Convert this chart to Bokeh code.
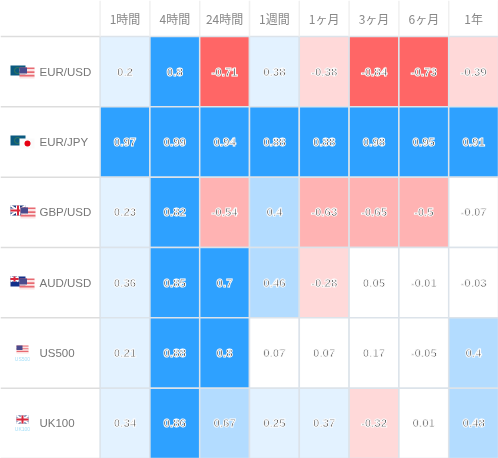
from bokeh.plotting import figure
from bokeh.models import Range1d, ColumnDataSource
from bokeh.embed import file_html
from bokeh.resources import INLINE
from bokeh.core.properties import value

periods = ["1時間", "4時間", "24時間", "1週間", "1ヶ月", "3ヶ月", "6ヶ月", "1年"]
instruments = ["EUR/USD", "EUR/JPY", "GBP/USD", "AUD/USD", "US500", "UK100"]
eur_usd = ["0.2", "0.8", "-0.71", "0.38", "-0.38", "-0.84", "-0.73", "-0.39"]
eur_jpy = ["0.97", "0.99", "0.94", "0.88", "0.88", "0.98", "0.95", "0.91"]
gbp_usd = ["0.23", "0.82", "-0.54", "0.4", "-0.63", "-0.65", "-0.5", "-0.07"]
aud_usd = ["0.36", "0.85", "0.7", "0.46", "-0.28", "0.05", "-0.01", "-0.03"]
us500 = ["0.21", "0.88", "0.8", "0.07", "0.07", "0.17", "-0.05", "0.4"]
uk100 = ["0.34", "0.86", "0.67", "0.25", "0.37", "-0.32", "0.01", "0.48"]
rows = [eur_usd, eur_jpy, gbp_usd, aud_usd, us500, uk100]


def colour(v):
    if v >= 0.7:
        return "#2ea1ff"
    if v >= 0.4:
        return "#b3dcff"
    if v >= 0.2:
        return "#e3f2ff"
    if v <= -0.7:
        return "#ff6666"
    if v <= -0.4:
        return "#ffb3b3"
    if v <= -0.2:
        return "#ffd9d9"
    return "#ffffff"


W, H = 498, 458
CW, RH, TOP = W / 10, (H - 36) / 6, 36 / ((H - 36) / 6)
p = figure(width=W, height=H, output_backend="svg", toolbar_location=None,
           x_range=Range1d(-2, 8), y_range=Range1d(6, -TOP),
           min_border=0, outline_line_color=None)
p.axis.visible = False
p.grid.visible = False
p.styles = {"position": "fixed", "left": "0px", "top": "0px"}


def px(x):
    return x / CW - 2


def py(y):
    return (y - 36) / RH


xs, ys, cols, labs = [], [], [], []
for r, row in enumerate(rows):
    for c, s in enumerate(row):
        xs.append(c + .5)
        ys.append(r + .5)
        cols.append(colour(float(s)))
        labs.append(s)
src = ColumnDataSource(dict(x=xs, y=ys, c=cols, t=labs))

# cells
p.rect("x", "y", 1, 1, source=src, fill_color="c", line_color="#dce3ea", line_width=1.5)
# row rules through the label column
p.segment(x0=[-2] * 7, x1=[0] * 7, y0=list(range(7)), y1=list(range(7)), line_color="#dddddd", line_width=1.5)
# header separators
hx = list(range(9))
p.segment(x0=hx, x1=hx, y0=[-TOP] * 9, y1=[0] * 9, line_color="#f0f0f0", line_width=1.5)

# header / row labels
p.text(x=[i + .5 for i in range(8)], y=[py(18)] * 8, text=periods, text_align="center", text_baseline="middle",
       text_font=value("Noto Sans CJK JP"), text_font_size="12px", text_color="#888888")
p.text(x=[px(39)] * 4 + [px(39)] * 2, y=[r + .5 for r in range(6)], text=instruments, text_align="left",
       text_baseline="middle", text_font=value("Liberation Sans"), text_font_size="11.5px", text_color="#777777")

# values
p.text("x", "y", text="t", source=src, text_align="center", text_baseline="middle",
       text_font=value("Liberation Sans"), text_font_style="bold", text_font_size="11.5px",
       text_color="#000000", outline_color="#ffffff")


def box(x0, y0, x1, y1, colour_):
    p.quad(left=px(x0), right=px(x1), top=py(y0), bottom=py(y1), fill_color=colour_, line_color=None)


def eu(y):
    box(10, y, 25, y + 10, "#0b5a80")
    p.scatter([px(17)], [py(y + 5)], size=6, marker="circle", fill_color=None, line_color="#3f7f50", line_width=.8)


def us(x, y, w=15, h=11):
    for i in range(6):
        box(x, y + i * h / 6, x + w, y + (i + 1) * h / 6, "#e86a72" if i % 2 == 0 else "#fbe4e4")
    box(x, y, x + w * .5, y + h * .55, "#4a4a8c")


def uk(x, y, w=15, h=10):
    box(x, y, x + w, y + h, "#1e3a7c")
    p.segment(px(x), py(y), px(x + w), py(y + h), line_color="#ffffff", line_width=2)
    p.segment(px(x), py(y + h), px(x + w), py(y), line_color="#ffffff", line_width=2)
    box(x + w / 2 - 2, y, x + w / 2 + 2, y + h, "#ffffff")
    box(x, y + h / 2 - 2, x + w, y + h / 2 + 2, "#ffffff")
    box(x + w / 2 - 1, y, x + w / 2 + 1, y + h, "#d8283c")
    box(x, y + h / 2 - 1, x + w, y + h / 2 + 1, "#d8283c")


# EUR/USD
eu(65)
us(19, 67)
# EUR/JPY
eu(135)
box(19, 138, 34, 148, "#fbfbfb")
p.scatter([px(27)], [py(143)], size=6, fill_color="#e60012", line_color=None)
# GBP/USD
uk(10, 205)
us(20, 207)
# AUD/USD
box(10, 276, 25, 286, "#12308a")
uk(10, 276, 8, 5)
us(19, 278)
# US500
us(16, 345, 12, 8)
p.text([px(22)], [py(358)], text=["US500"], text_align="center", text_baseline="middle",
       text_font_size="5px", text_color="#a8e0f8", text_font=value("Liberation Sans"))
# UK100
uk(16, 415, 12, 8)
p.text([px(22)], [py(428)], text=["UK100"], text_align="center", text_baseline="middle",
       text_font_size="5px", text_color="#a8e0f8", text_font=value("Liberation Sans"))

open("out.html", "w").write(file_html(p, INLINE))
